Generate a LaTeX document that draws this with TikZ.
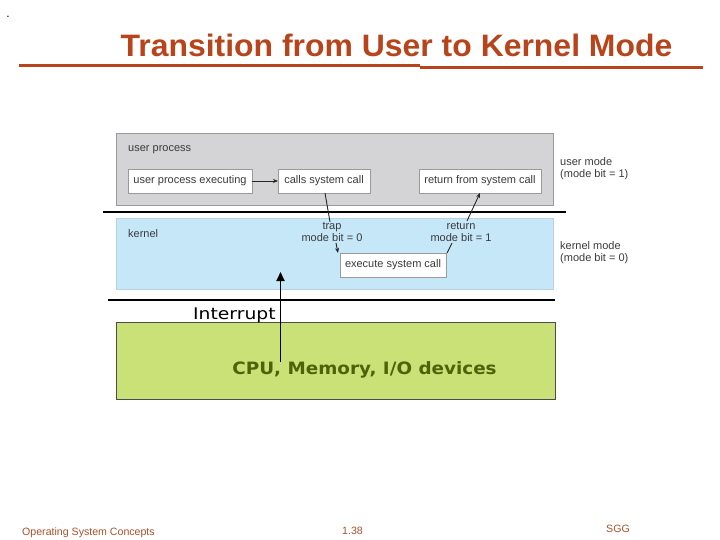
\documentclass[tikz,border=0pt]{standalone}
\usepackage{fontspec}
\setmainfont{Liberation Sans}
\newfontfamily\verd{DejaVu Sans}
\usetikzlibrary{arrows.meta}
\definecolor{titlec}{HTML}{B8441C}
\definecolor{footc}{HTML}{A8502A}
\definecolor{graybg}{HTML}{D4D4D6}
\definecolor{bluebg}{HTML}{C6E7F8}
\definecolor{greenbg}{HTML}{C9E177}
\definecolor{olivetxt}{HTML}{4F6208}
\definecolor{txt}{HTML}{3A3A3A}
\definecolor{boxline}{HTML}{9A9A9A}
\tikzset{
  region/.style={draw=boxline, line width=0.6pt, anchor=north west, inner sep=0pt, outer sep=0pt},
  sbox/.style={draw=boxline, fill=white, line width=0.6pt, anchor=north west, inner sep=0pt, outer sep=0pt,
     minimum height=24pt, text=txt, font=\fontsize{11}{13}\selectfont},
  lbl/.style={text=txt, font=\fontsize{11}{12.5}\selectfont, inner sep=0pt},
  arr/.style={-{Stealth[length=5pt,width=4pt]}, line width=0.9pt, draw=black!85},
  ln/.style={line width=0.9pt, draw=black!85},
  sep/.style={line width=2.4pt, draw=black}
}
\begin{document}
\begin{tikzpicture}[x=1pt,y=-1pt]
\useasboundingbox (0,0) rectangle (720,540);
% top-left mark
\node[inner sep=0pt, font=\fontsize{12}{12}\selectfont] (dot) at (8,17) {.};
% title
\node[text=titlec, font=\fontsize{31}{31}\selectfont\bfseries, inner sep=0pt] (title) at (396.5,45) {\scalebox{1.03}[1]{Transition from User to Kernel Mode}};
\draw[titlec, line width=3pt] (19,66) -- (420,66);
\draw[titlec, line width=3pt] (420,67.5) -- (703,67.5);
% regions
\node[region, fill=graybg, minimum width=437pt, minimum height=72pt] (user) at (116,133) {};
\node[region, fill=bluebg, draw=bluebg!80!gray, minimum width=437pt, minimum height=71pt] (kern) at (116,218) {};
\node[region, fill=greenbg, draw=black!70, minimum width=439pt, minimum height=77pt] (hw) at (116,322) {};
% region labels
\node[lbl, anchor=west] (uplbl) at (128,149.5) {user process};
\node[lbl, anchor=west] (klbl) at (128,234) {kernel};
\node[lbl, anchor=north west, align=left] (umode) at (560,157) {user mode\\(mode bit = 1)};
\node[lbl, anchor=north west, align=left] (kmode) at (560,241) {kernel mode\\(mode bit = 0)};
% boxes
\node[sbox, minimum width=124pt] (upe) at (128,169) {user process executing};
\node[sbox, minimum width=92pt] (csc) at (278,169) {calls system call};
\node[sbox, minimum width=122pt] (rsc) at (419,169) {return from system call};
\node[sbox, minimum width=106pt] (esc) at (340,253) {execute system call};
% mode labels
\node[lbl, align=center] (trapl) at (332,232) {trap\\mode bit = 0};
\node[lbl, align=center] (retl) at (461,232) {return\\mode bit = 1};
% separators
\coordinate (s1a) at (103,212);
\coordinate (s1b) at (566,212);
\draw[sep] (s1a) -- (s1b);
\coordinate (s2a) at (108,300);
\coordinate (s2b) at (555,300);
\draw[sep, line width=2pt] (s2a) -- (s2b);
% connectors
\draw[arr] (upe.east) -- (csc.west);
\draw[ln] ([xshift=1pt]csc.south) -- ([xshift=-2pt]trapl.north);
\draw[arr] ([xshift=4pt,yshift=-1pt]trapl.south) -- ([xshift=-2pt]esc.north west);
\draw[ln] ([xshift=1pt]esc.north east) -- ([xshift=-9pt,yshift=-1pt]retl.south);
\draw[arr] ([xshift=6pt,yshift=1pt]retl.north) -- (rsc.south);
% interrupt
\coordinate (intb) at (280.5,362);
\coordinate (intt) at (280.5,272);
\draw[line width=1.8pt, -{Triangle[length=9pt,width=8pt]}] (intb) -- (intt);
\node[inner sep=0pt, anchor=south west, font=\verd\fontsize{16}{16}\selectfont] (intl) at (193,323.5) {\scalebox{1.17}[1]{Interrupt}};
\node[inner sep=0pt, text=olivetxt, font=\verd\fontsize{17}{17}\selectfont\bfseries] (hwl) at (364.5,370) {\scalebox{1.08}[1]{CPU, Memory, I/O devices}};
% footer
\node[inner sep=0pt, anchor=west, text=footc, font=\fontsize{10.6}{10.6}\selectfont] (f1) at (22,532.5) {Operating System Concepts};
\node[inner sep=0pt, text=footc, font=\fontsize{10.6}{10.6}\selectfont] (f2) at (352.5,531) {1.38};
\node[inner sep=0pt, text=footc, font=\fontsize{10.6}{10.6}\selectfont] (f3) at (618,528.5) {SGG};
\end{tikzpicture}
\end{document}
